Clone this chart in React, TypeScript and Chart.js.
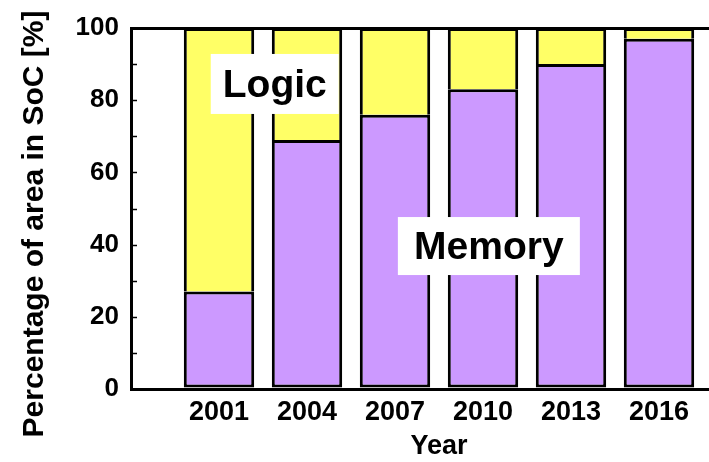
import React, { useEffect, useRef } from 'react';
import { Chart, registerables } from 'chart.js';

Chart.register(...registerables);

const years = [2001, 2004, 2007, 2010, 2013, 2016];
const memoryPct = [27, 69, 76, 83, 90, 97];
const logicPct = [73, 31, 24, 17, 10, 3];
const yTickLabels = [0, 20, 40, 60, 80, 100];
const xRange = [1998, 2019];
const yAxisTitle = 'Percentage of area in SoC [%]';
const xAxisTitle = 'Year';
const areaLabelTexts = ['Logic', 'Memory'];
const areaLabelAt = [
  [2002.9, 84.5],
  [2010.2, 39.6],
];

const FONT = '"Liberation Sans", Arial, sans-serif';
const BOX_W = [128, 182];
const BOX_H = [60, 58];

const overlay = {
  id: 'overlay',
  afterDraw(chart: any) {
    const { ctx, scales, chartArea } = chart;
    const x = scales.x;
    const y = scales.y;
    ctx.save();
    // inward minor ticks on the y axis
    ctx.strokeStyle = '#000';
    ctx.lineWidth = 1.5;
    y.ticks.forEach((t: any) => {
      if (t.value > 0 && t.value < 100) {
        const py = Math.round(y.getPixelForValue(t.value)) + 0.5;
        ctx.beginPath();
        ctx.moveTo(chartArea.left, py);
        ctx.lineTo(chartArea.left + 6, py);
        ctx.stroke();
      }
    });
    // area labels
    ctx.font = 'bold 39px ' + FONT;
    ctx.textAlign = 'center';
    ctx.textBaseline = 'middle';
    areaLabelTexts.forEach((txt, i) => {
      const cx = x.getPixelForValue(areaLabelAt[i][0]);
      const cy = y.getPixelForValue(areaLabelAt[i][1]);
      const w = BOX_W[i];
      const h = BOX_H[i];
      ctx.fillStyle = '#fff';
      ctx.fillRect(cx - w / 2, cy - h / 2, w, h);
      ctx.fillStyle = '#000';
      ctx.fillText(txt, cx, cy + 2);
    });
    // y axis title
    ctx.font = 'bold 30px ' + FONT;
    ctx.translate(35, 224);
    ctx.rotate(-Math.PI / 2);
    ctx.fillStyle = '#000';
    ctx.fillText(yAxisTitle, 0, 0);
    ctx.restore();
  },
};

export default function App() {
  const ref = useRef<HTMLCanvasElement>(null);
  useEffect(() => {
    if (!ref.current) return;
    Chart.defaults.font.family = FONT;
    const chart = new Chart(ref.current, {
      type: 'bar',
      data: {
        datasets: [
          {
            label: 'Memory',
            data: years.map((yr, i) => ({ x: yr, y: memoryPct[i] })),
            backgroundColor: '#CC99FF',
            borderColor: '#000',
            borderWidth: 3,
            borderSkipped: false,
            categoryPercentage: 1,
            barPercentage: 0.8,
          } as any,
          {
            label: 'Logic',
            data: years.map((yr, i) => ({ x: yr, y: logicPct[i] })),
            backgroundColor: '#FFFF66',
            borderColor: '#000',
            borderWidth: 3,
            borderSkipped: 'start',
            categoryPercentage: 1,
            barPercentage: 0.8,
          } as any,
        ],
      },
      options: {
        responsive: false,
        animation: false,
        devicePixelRatio: 1,
        layout: { padding: { left: 0, top: 28, right: 13, bottom: 0 } },
        plugins: { legend: { display: false }, tooltip: { enabled: false } },
        scales: {
          x: {
            type: 'linear',
            min: xRange[0],
            max: xRange[1],
            offset: false,
            stacked: true,
            grid: { drawOnChartArea: false, drawTicks: false },
            border: { color: '#000', width: 3 },
            ticks: {
              stepSize: 3,
              autoSkip: false,
              maxRotation: 0,
              color: '#000',
              padding: 7,
              font: { size: 27, weight: 'bold' },
              callback: (v: any) => (years.includes(Number(v)) ? String(v) : ''),
            },
            title: {
              display: true,
              text: xAxisTitle,
              color: '#000',
              font: { size: 27, weight: 'bold', lineHeight: 1 },
              padding: { top: 0, bottom: 2 },
            },
            afterFit: (s: any) => {
              s.height = 73;
            },
          } as any,
          y: {
            min: 0,
            max: 100,
            stacked: true,
            grid: {
              drawTicks: false,
              lineWidth: 3,
              color: (c: any) => (c.tick && c.tick.value === 100 ? '#000' : 'rgba(0,0,0,0)'),
            },
            border: { color: '#000', width: 3 },
            ticks: {
              stepSize: 10,
              autoSkip: false,
              color: '#000',
              padding: 12,
              font: { size: 26, weight: 'bold' },
              callback: (v: any) => (yTickLabels.includes(Number(v)) ? String(v) : ''),
            },
            afterFit: (s: any) => {
              s.width = 131;
            },
          } as any,
        },
      },
      plugins: [overlay],
    });
    return () => chart.destroy();
  }, []);
  return (
    <div style={{ position: 'absolute', left: 0, top: 0, width: 709, height: 462, overflow: 'hidden', background: '#fff' }}>
      <canvas ref={ref} width={760} height={462} style={{ display: 'block' }} />
    </div>
  );
}
